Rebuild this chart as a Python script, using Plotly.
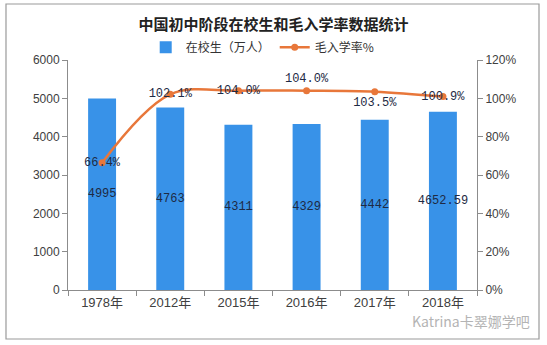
import plotly.graph_objects as go

# Junior secondary school enrolment and gross enrolment rate, China
years = ["1978年", "2012年", "2015年", "2016年", "2017年", "2018年"]
students = [4995, 4763, 4311, 4329, 4442, 4652.59]          # 万人
student_labels = ["4995", "4763", "4311", "4329", "4442", "4652.59"]
gross_rate = [66.4, 102.1, 104.0, 104.0, 103.5, 100.9]      # %
rate_label_pos = ["middle center", "middle center", "middle center",
                  "top center", "bottom center", "middle center"]

BLUE = "#3892E8"
ORANGE = "#E8773A"
AXIS = "#8C8C8C"
LABEL_FONT = dict(family="Liberation Mono, DejaVu Sans Mono, monospace", size=12, color="#1E2A44")

fig = go.Figure()

fig.add_trace(go.Bar(
    x=years, y=students, name="在校生（万人）",
    marker=dict(color=BLUE, line=dict(width=0)),
    text=student_labels, textposition="inside", insidetextanchor="middle",
    constraintext="none", textfont=LABEL_FONT, textangle=0, cliponaxis=False,
))

fig.add_trace(go.Scatter(
    x=years, y=gross_rate, name="毛入学率%", yaxis="y2",
    mode="lines+markers+text",
    line=dict(color=ORANGE, width=2.5, shape="spline", smoothing=1.0),
    marker=dict(color=ORANGE, size=7),
    text=[f"{v:.1f}%" for v in gross_rate], textposition=rate_label_pos,
    textfont=LABEL_FONT, cliponaxis=False,
))

tick_font = dict(family="Liberation Sans, Arial, sans-serif", size=12, color="#404040")

fig.update_layout(
    width=547, height=345,
    margin=dict(l=68, r=70, t=60, b=55),
    paper_bgcolor="white", plot_bgcolor="white",
    bargap=0.59,
    uniformtext=dict(mode=False),
    showlegend=True,
    legend=dict(
        orientation="h", x=0.19, y=1.055, xanchor="left", yanchor="middle",
        font=dict(family="Noto Sans CJK SC, sans-serif", size=12, color="#333333"),
        bgcolor="rgba(0,0,0,0)", itemwidth=30, tracegroupgap=0,
    ),
    title=dict(
        text="<b>中国初中阶段在校生和毛入学率数据统计</b>",
        x=0.5, xanchor="center", y=0.928, yanchor="middle",
        font=dict(family="Noto Sans CJK SC, sans-serif", size=15, color="#222222"),
    ),
    xaxis=dict(
        type="category", showgrid=False, showline=True, linecolor=AXIS, linewidth=1,
        ticks="outside", tickson="boundaries", ticklen=5, tickcolor=AXIS,
        tickfont=dict(family="Liberation Sans, Noto Sans CJK SC, sans-serif", size=13, color="#404040"),
        zeroline=False,
    ),
    yaxis=dict(
        range=[0, 6000], dtick=1000, showgrid=False, zeroline=False,
        showline=True, linecolor=AXIS, linewidth=1,
        ticks="outside", ticklen=5, tickcolor=AXIS, tickfont=tick_font,
    ),
    yaxis2=dict(
        range=[0, 120], dtick=20, ticksuffix="%", overlaying="y", side="right",
        showgrid=False, zeroline=False, showline=True, linecolor=AXIS, linewidth=1,
        ticks="outside", ticklen=5, tickcolor=AXIS, tickfont=tick_font,
    ),
    shapes=[dict(
        type="rect", xref="paper", yref="paper",
        x0=-0.1516, x1=1.1516, y0=-0.213, y1=1.2435,
        line=dict(color="#9A9A9A", width=1.2), fillcolor="rgba(0,0,0,0)", layer="below",
    )],
    annotations=[dict(
        text="Katrina卡翠娜学吧", xref="paper", yref="paper",
        x=0.985, y=-0.135, xanchor="center", yanchor="middle", showarrow=False,
        font=dict(family="Noto Sans CJK SC, sans-serif", size=14, color="#B4B4B4"),
    )],
)

fig.write_html("out.html")
